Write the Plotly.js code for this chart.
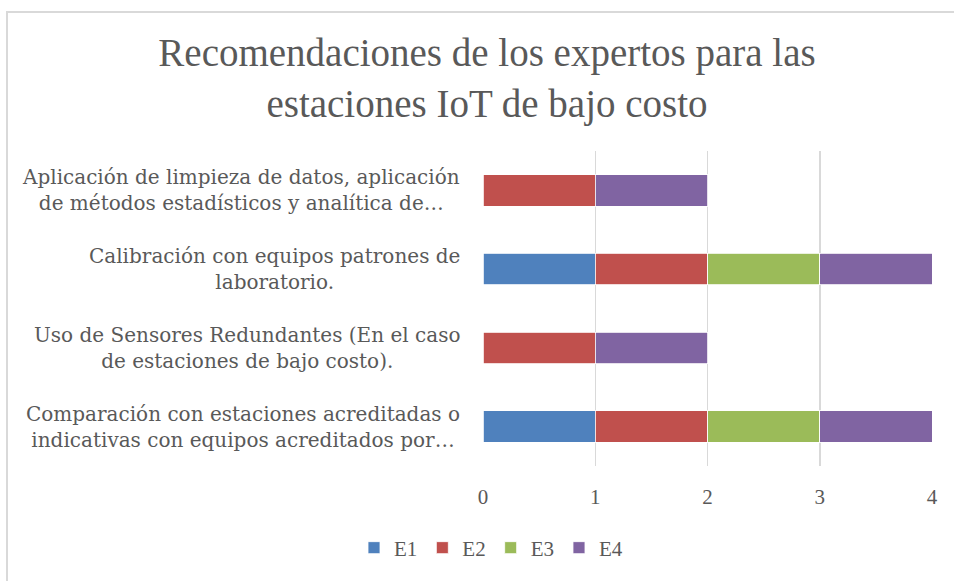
<!DOCTYPE html>
<html>
<head>
<meta charset="utf-8">
<script src="https://cdn.plot.ly/plotly-3.0.1.min.js"></script>
<style>
  html, body { margin: 0; padding: 0; background: #fff; }
  #frame { position: absolute; left: 6px; top: 11px; width: 960px; height: 600px;
           border-left: 2px solid #d9d9d9; border-top: 2px solid #d9d9d9; }
  #chart { position: absolute; left: 0; top: 0; width: 954px; height: 581px; }
</style>
</head>
<body>
<div id="frame"></div>
<div id="chart"></div>
<script>
const categories = [
  "Comparación con estaciones acreditadas o<br>indicativas con equipos acreditados por…",
  "Uso de Sensores Redundantes (En el caso<br>de estaciones de bajo costo).",
  "Calibración con equipos patrones de<br>laboratorio.",
  "Aplicación de limpieza de datos, aplicación<br>de métodos estadísticos y analítica de…"
];
const seriesNames = ["E1", "E2", "E3", "E4"];
const E1 = [1, 0, 1, 0];
const E2 = [1, 1, 1, 1];
const E3 = [1, 0, 1, 0];
const E4 = [1, 1, 1, 1];
const xTicks = [0, 1, 2, 3, 4];

const colors = ["#4F81BD", "#C0504D", "#9BBB59", "#8064A2"];
const values = [E1, E2, E3, E4];
const textColor = "#595959";
const fontFam = "Liberation Serif, serif";
const labelFam = "DejaVu Serif, serif";

const traces = seriesNames.map((n, i) => ({
  type: "bar",
  orientation: "h",
  name: n,
  y: categories,
  x: values[i],
  marker: { color: colors[i], line: { color: "#ffffff", width: 0.8 } },
  width: 0.4,
  hoverinfo: "x+name"
}));

const annotations = categories.map(c => ({
  xref: "paper", yref: "y", x: 0, y: c, xanchor: "right", yanchor: "middle",
  xshift: -21, text: c, showarrow: false, align: "center",
  font: { family: labelFam, size: 20, color: textColor }
}));

const layout = {
  width: 954, height: 581,
  paper_bgcolor: "rgba(0,0,0,0)", plot_bgcolor: "rgba(0,0,0,0)",
  margin: { l: 483, r: 22, t: 151, b: 115 },
  barmode: "stack",
  title: {
    text: "Recomendaciones de los expertos para las<br>estaciones IoT de bajo costo",
    xref: "container", x: 487 / 954, xanchor: "center",
    yref: "container", y: 1 - 66 / 581, yanchor: "top",
    font: { family: fontFam, size: 39, color: textColor }
  },
  xaxis: {
    range: [0, 4], tickvals: xTicks, ticktext: xTicks.map(String),
    showgrid: true, gridcolor: "#d9d9d9", gridwidth: 1.5, zeroline: false,
    showline: false, ticks: "outside", ticklen: 12, tickcolor: "rgba(0,0,0,0)",
    tickfont: { family: fontFam, size: 21, color: textColor }, fixedrange: true
  },
  yaxis: {
    type: "category", categoryorder: "array", categoryarray: categories,
    range: [-0.5, 3.5], showticklabels: false, showgrid: false, zeroline: false,
    showline: false, ticks: "", fixedrange: true
  },
  annotations: annotations,
  showlegend: true,
  legend: {
    orientation: "h", xref: "container", yref: "container",
    x: 491 / 954, xanchor: "center", y: 1 - 548 / 581, yanchor: "middle",
    font: { family: fontFam, size: 21, color: textColor },
    itemwidth: 30, traceorder: "normal", bgcolor: "rgba(0,0,0,0)"
  },
  hovermode: false
};

Plotly.newPlot("chart", traces, layout, { displayModeBar: false, staticPlot: true });
</script>
</body>
</html>
